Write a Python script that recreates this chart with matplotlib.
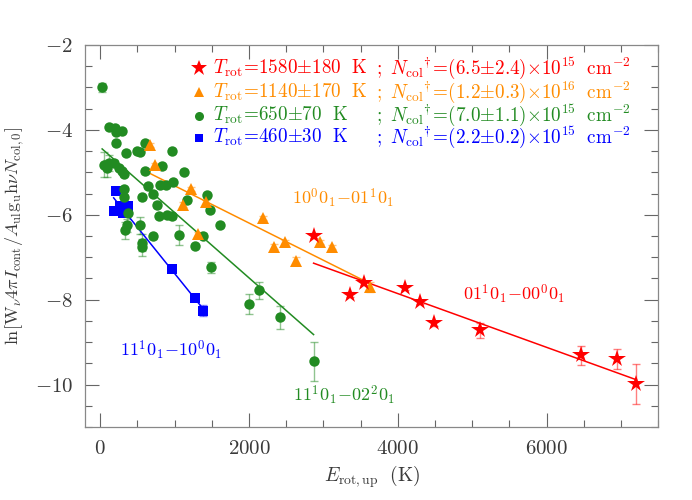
import matplotlib
matplotlib.use("Agg")
import matplotlib.pyplot as plt
import numpy as np
from matplotlib.ticker import MultipleLocator

plt.rcParams['mathtext.fontset'] = 'cm'
plt.rcParams['font.family'] = 'serif'
plt.rcParams['font.serif'] = ['cmr10', 'DejaVu Serif']
plt.rcParams['axes.formatter.use_mathtext'] = True

# ---------------- data ----------------
red_x = [2868, 3362, 3540, 4095, 4293, 4491, 5109, 6466, 6946, 7206]
red_y = [-6.49, -7.88, -7.60, -7.72, -8.06, -8.56, -8.72, -9.31, -9.40, -9.98]
red_e = [0.05, 0.05, 0.05, 0.05, 0.05, 0.05, 0.18, 0.22, 0.24, 0.47]

orange_x = [673, 741, 1225, 1113, 1426, 1320, 2192, 2342, 2488, 2636, 2949, 3115, 3630]
orange_y = [-4.35, -4.82, -5.40, -5.76, -5.71, -6.46, -6.08, -6.75, -6.64, -7.09, -6.64, -6.76, -7.71]
orange_e = [0.05, 0.05, 0.05, 0.05, 0.05, 0.05, 0.05, 0.05, 0.05, 0.10, 0.05, 0.05, 0.12]

green_x = [25, 113, 203, 216, 293, 216, 346, 494, 530, 597, 965, 830, 46, 113, 180,
           91, 247, 293, 315, 597, 1120, 637, 710, 798, 888, 975, 315, 315, 561, 760,
           1167, 1435, 368, 794, 898, 965, 1470, 1614, 360, 337, 530, 710, 1063, 1269, 561,
           561, 1381, 1493, 1995, 2129, 2411, 2868]
green_y = [-3.00, -3.94, -3.96, -4.04, -4.03, -4.31, -4.54, -4.50, -4.52, -4.31,
           -4.50, -4.86, -4.82, -4.78, -4.77, -4.90, -4.90, -4.98, -5.04, -4.98,
           -5.00, -5.33, -5.51, -5.29, -5.29, -5.22, -5.40, -5.58, -5.58, -5.76,
           -5.66, -5.53, -5.95, -6.02, -6.00, -6.04, -5.88, -6.24, -6.25, -6.37,
           -6.25, -6.51, -6.47, -6.74, -6.66, -6.76, -6.49, -7.24, -8.10, -7.78,
           -8.42, -9.45]
green_e = [0.10, 0.05, 0.05, 0.05, 0.05, 0.05, 0.05, 0.05, 0.05, 0.05,
           0.05, 0.05, 0.30, 0.20, 0.05, 0.20, 0.05, 0.05, 0.05, 0.05,
           0.05, 0.05, 0.05, 0.05, 0.05, 0.05, 0.05, 0.05, 0.05, 0.05,
           0.05, 0.05, 0.05, 0.05, 0.05, 0.05, 0.05, 0.05, 0.15, 0.20,
           0.20, 0.05, 0.24, 0.05, 0.20, 0.20, 0.05, 0.12, 0.24, 0.20,
           0.27, 0.46]

blue_x = [216, 180, 261, 306, 373, 965, 1269, 1381]
blue_y = [-5.45, -5.90, -5.80, -5.96, -5.79, -7.27, -7.95, -8.26]
blue_e = [0.05, 0.05, 0.05, 0.05, 0.05, 0.05, 0.05, 0.13]

# fitted rotational temperatures (K) and intercepts
fit_T = {'red': 1580, 'orange': 1140, 'green': 650, 'blue': 460}
fit_b = {'red': -5.325, 'orange': -4.44, 'green': -4.41, 'blue': -5.21}

legend_T = ['1580{\\pm}180', '1140{\\pm}170', '650{\\pm}70', '460{\\pm}30']
legend_N = ['(6.5{\\pm}2.4){\\times}10^{15}', '(1.2{\\pm}0.3){\\times}10^{16}',
            '(7.0{\\pm}1.1){\\times}10^{15}', '(2.2{\\pm}0.2){\\times}10^{15}']

band_labels = [r'$10^{0}0_{1}\!-\!01^{1}0_{1}$', r'$01^{1}0_{1}\!-\!00^{0}0_{1}$',
               r'$11^{1}0_{1}\!-\!02^{2}0_{1}$', r'$11^{1}0_{1}\!-\!10^{0}0_{1}$']

# ---------------- plot ----------------
fig = plt.figure(figsize=(6.92, 5.0), dpi=100)
ax = fig.add_axes([0.1234, 0.146, 0.8276, 0.764])

cols = {'red': '#ff0000', 'orange': '#ff8c00', 'green': '#228b22', 'blue': '#0000ff'}
series = [
    ('blue', blue_x, blue_y, blue_e, 's', 6.5),
    ('green', green_x, green_y, green_e, 'o', 7.5),
    ('orange', orange_x, orange_y, orange_e, '^', 8.5),
    ('red', red_x, red_y, red_e, '*', 13),
]
for name, xs, ys, es, mk, ms in series:
    c = cols[name]
    xs = np.array(xs); ys = np.array(ys)
    ax.errorbar(xs, ys, yerr=es, fmt='none', ecolor=c, alpha=0.5,
                elinewidth=1.0, capsize=3, capthick=1.0, zorder=2)
    xx = np.array([xs.min(), xs.max()])
    ax.plot(xx, fit_b[name] - xx / fit_T[name], color=c, lw=1.1, zorder=3)
    ax.plot(xs, ys, linestyle='none', marker=mk, ms=ms, color=c,
            markeredgewidth=0, zorder=4)

ax.set_xlim(-200, 7500)
ax.set_ylim(-11, -2)
ax.xaxis.set_major_locator(MultipleLocator(2000))
ax.xaxis.set_minor_locator(MultipleLocator(500))
ax.yaxis.set_major_locator(MultipleLocator(2))
ax.yaxis.set_minor_locator(MultipleLocator(0.5))
ax.tick_params(which='both', direction='in', top=True, right=True,
               color='#666666', labelcolor='#3a3a3a', labelsize=15, pad=9)
ax.tick_params(which='major', length=10, width=0.8)
ax.tick_params(which='minor', length=5, width=0.8)
for s in ax.spines.values():
    s.set_color('#888888')
    s.set_linewidth(0.9)

ax.set_xlabel(r'$E_{\rm rot,up}\ \ {\rm (K)}$', fontsize=14, color='#3a3a3a', labelpad=4)
ax.set_ylabel(r'${\rm ln[W}_\nu 4\pi I_{\rm cont}/A_{\rm ul}{\rm g}_{\rm u}{\rm h}\nu N_{\rm col,0}{\rm ]}$',
              fontsize=13, color='#3a3a3a', labelpad=6)

# band labels
ax.text(3270, -5.62, band_labels[0], color=cols['orange'], fontsize=13, ha='center', va='center')
ax.text(5566, -7.86, band_labels[1], color=cols['red'], fontsize=13, ha='center', va='center')
ax.text(3280, -10.26, band_labels[2], color=cols['green'], fontsize=13, ha='center', va='center')
ax.text(958, -9.2, band_labels[3], color=cols['blue'], fontsize=13, ha='center', va='center')

# custom legend
rows_y = [0.940, 0.877, 0.815, 0.757]
order = ['red', 'orange', 'green', 'blue']
marks = {'red': ('*', 12), 'orange': ('^', 7.5), 'green': ('o', 6.5), 'blue': ('s', 5.5)}
for i, name in enumerate(order):
    c = cols[name]
    mk, ms = marks[name]
    ax.plot([0.198], [rows_y[i]], marker=mk, ms=ms, color=c, mew=0,
            transform=ax.transAxes, clip_on=False)
    ax.text(0.222, rows_y[i], r'$T_{\rm rot}\!=\!' + legend_T[i] + r'\ \ {\rm K}$',
            transform=ax.transAxes, color=c, fontsize=13.75, va='center', ha='left')
    ax.text(0.508, rows_y[i], r'$;\ N_{\rm col}{}^{\dagger}\!=\!' + legend_N[i] + r'\ \ {\rm cm}^{-2}$',
            transform=ax.transAxes, color=c, fontsize=13.75, va='center', ha='left')

fig.savefig('out.png', dpi=100)
